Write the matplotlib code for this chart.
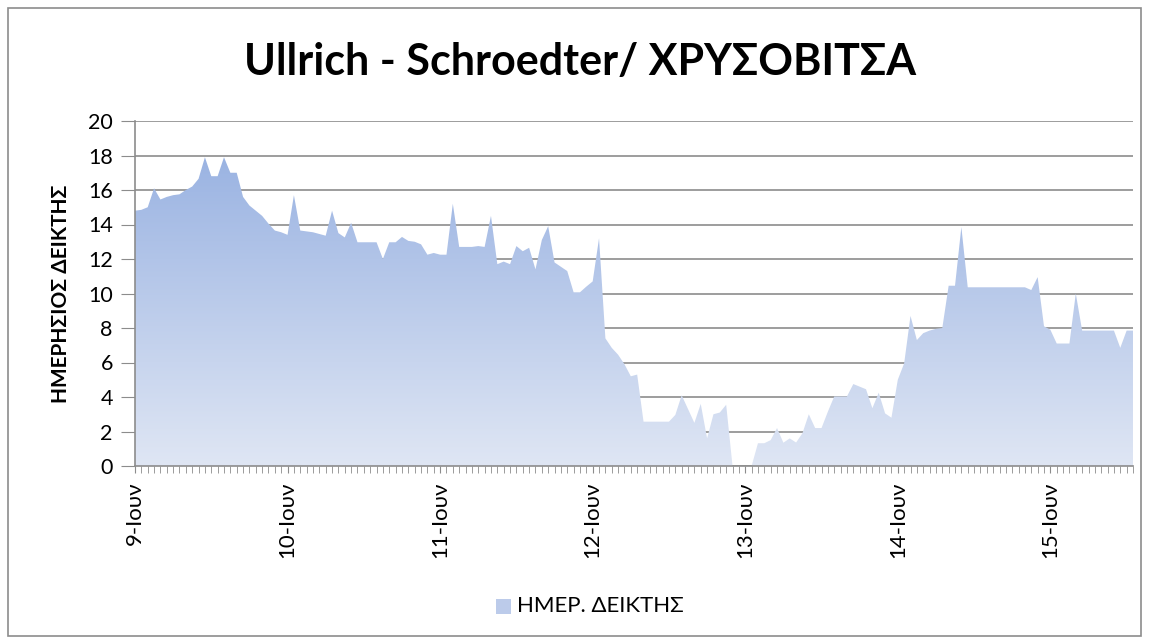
import numpy as np
import matplotlib
matplotlib.use("Agg")
import matplotlib.pyplot as plt
from matplotlib.colors import LinearSegmentedColormap
from matplotlib.patches import Rectangle

plt.rcParams['font.family'] = ['Lato', 'Open Sans', 'DejaVu Sans']

# hourly daily index values, starting 9-Ιουν 00:00
day_labels = ['9-Ιουν', '10-Ιουν', '11-Ιουν', '12-Ιουν', '13-Ιουν', '14-Ιουν', '15-Ιουν']
values = [
    14.8, 14.85, 15.0, 16.1, 15.45, 15.6, 15.7, 15.75, 16.0, 16.2, 16.65, 17.9,
    16.8, 16.8, 17.9, 17.0, 17.0, 15.6, 15.1, 14.8, 14.5, 14.05, 13.65, 13.55,
    13.4, 15.7, 13.65, 13.6, 13.55, 13.45, 13.35, 14.8, 13.5, 13.25, 14.1, 12.97,
    12.97, 12.97, 12.97, 12.0, 12.97, 12.97, 13.28, 13.05, 13.0, 12.85, 12.25, 12.35,
    12.25, 12.25, 15.2, 12.7, 12.7, 12.7, 12.75, 12.7, 14.5, 11.7, 11.85, 11.7,
    12.75, 12.45, 12.65, 11.4, 13.1, 13.9, 11.8, 11.55, 11.3, 10.07, 10.07, 10.4,
    10.7, 13.2, 7.4, 6.85, 6.45, 5.9, 5.2, 5.3, 2.57, 2.57, 2.57, 2.57,
    2.57, 2.96, 4.1, 3.3, 2.5, 3.6, 1.6, 3.0, 3.1, 3.55, 0, 0,
    0, 0, 1.32, 1.32, 1.5, 2.2, 1.35, 1.6, 1.36, 1.9, 3.0, 2.2,
    2.2, 3.15, 4.03, 4.03, 4.03, 4.75, 4.6, 4.45, 3.35, 4.25, 3.05, 2.8,
    5.0, 5.95, 8.7, 7.3, 7.7, 7.85, 7.95, 8.0, 10.45, 10.45, 13.85, 10.36,
    10.36, 10.36, 10.36, 10.36, 10.36, 10.36, 10.36, 10.36, 10.36, 10.2, 10.95, 8.1,
    7.9, 7.1, 7.1, 7.1, 10.0, 7.85, 7.85, 7.85, 7.85, 7.85, 7.85, 6.85,
    7.85, 7.85,
]
y_ticks = [0, 2, 4, 6, 8, 10, 12, 14, 16, 18, 20]

title = 'Ullrich - Schroedter/ ΧΡΥΣΟΒΙΤΣΑ'
y_label = 'ΗΜΕΡΗΣΙΟΣ ΔΕΙΚΤΗΣ'
series_name = 'ΗΜΕΡ. ΔΕΙΚΤΗΣ'

x = np.arange(len(values))
vals = np.array(values)

fig = plt.figure(figsize=(11.49, 6.4), dpi=100)
fig.patches.append(Rectangle((8 / 1149, 4 / 640), 1133 / 1149, 628 / 640,
                             transform=fig.transFigure, fill=False,
                             edgecolor='#8c8c8c', linewidth=1.2))

ax = fig.add_axes([135 / 1149, 1 - 466 / 640, (1133 - 135) / 1149, (466 - 121) / 640])

# gradient area: darker blue at top, light at the bottom
cmap = LinearSegmentedColormap.from_list('area', ['#dfe6f4', '#9ab3e2'])
grad = np.linspace(0, 1, 256).reshape(-1, 1)
poly = ax.fill_between(x, vals, 0, color='none', linewidth=0)
img = ax.imshow(grad, cmap=cmap, aspect='auto', origin='lower',
                extent=[x[0], x[-1], 0, 18], zorder=2, interpolation='bicubic')
img.set_clip_path(poly.get_paths()[0], transform=ax.transData)

ax.set_xlim(x[0], x[-1])
ax.set_ylim(0, 20)
ax.set_yticks(y_ticks)
ax.set_yticklabels([str(t) for t in y_ticks], fontsize=15.5)
ax.yaxis.grid(True, color='#8c8c8c', linewidth=1.2, zorder=0)
ax.set_axisbelow(True)

ax.set_xticks(np.arange(0, len(values), 24))
ax.set_xticklabels(day_labels, rotation=90, fontsize=16)
ax.set_xticks(x, minor=True)
ax.tick_params(axis='x', which='both', length=5, color='#8c8c8c', pad=6)
ax.tick_params(axis='y', length=10, color='#8c8c8c', pad=6)

for s in ['top', 'right']:
    ax.spines[s].set_visible(False)
for s in ['left', 'bottom']:
    ax.spines[s].set_color('#8c8c8c')
    ax.spines[s].set_linewidth(1.2)

ax.set_ylabel(y_label, fontsize=15, fontweight='bold', labelpad=12)

fig.text(0.505, 0.903, title, ha='center', va='center', fontsize=31, fontweight='bold')

# legend
fig.patches.append(Rectangle((496 / 1149, 1 - 614 / 640), 15 / 1149, 15 / 640,
                             transform=fig.transFigure, facecolor='#bccbea', edgecolor='none'))
fig.text(517 / 1149, 1 - 606 / 640, series_name, ha='left', va='center', fontsize=16)

fig.savefig('out.png', dpi=100)
